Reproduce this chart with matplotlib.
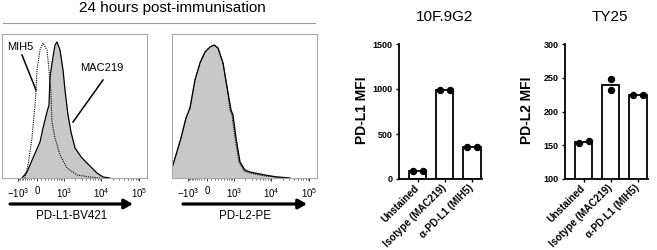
import numpy as np
import matplotlib
matplotlib.use('Agg')
import matplotlib.pyplot as plt
from matplotlib.lines import Line2D

# histogram outlines, x in display channel (0-145 across the panel), y = % of max
pdl1_mac219_x = [20, 25, 31, 38, 41, 45, 47, 48, 51, 53, 55, 58, 61, 63, 65, 66, 69, 73, 80, 85, 90, 95, 101, 108]
pdl1_mac219_y = [0, 6, 20, 36, 50, 66, 73, 101, 121, 133, 136, 128, 108, 88, 71, 63, 46, 30, 20, 15, 10, 5, 1, 0]
pdl1_mih5_x = [23, 26, 30, 33, 34, 35, 38, 41, 45, 47, 49, 49.5, 50, 53, 58, 65, 75, 88, 98]
pdl1_mih5_y = [0, 13, 40, 73, 88, 108, 128, 135, 128, 108, 85, 68, 56, 40, 23, 10, 3, 1, 0]

pdl2_mac219_x = [0, 4, 9, 14, 18, 23, 28, 33, 38, 42, 46, 51, 55, 59, 61, 64, 68, 73, 78, 83, 93, 105, 118]
pdl2_mac219_y = [10, 23, 40, 60, 70, 98, 115, 126, 131, 133, 130, 115, 91, 68, 63, 40, 16, 8, 6, 5, 3, 1, 0]
pdl2_mih5_x = [0, 4, 9, 14, 18, 23, 28, 33, 38, 42, 46, 51, 55, 58, 60, 63, 67, 72, 78, 83, 93, 105, 116]
pdl2_mih5_y = [10, 23, 40, 60, 70, 98, 115, 126, 131, 133, 130, 115, 91, 68, 63, 40, 16, 7, 5, 4, 2, 1, 0]

major_vals = [-1e3, 0, 1e3, 1e4, 1e5]
major_labels = [r'$\mathregular{-10^3}$', '0', r'$\mathregular{10^3}$',
                r'$\mathregular{10^4}$', r'$\mathregular{10^5}$']

# bar charts
categories = ['Unstained', 'Isotype (MAC219)', '\u03b1-PD-L1 (MIH5)']
pdl1_reps = [[88, 90], [985, 992], [357, 360]]
pdl2_reps = [[153, 156], [248, 232], [224, 225]]

plt.rcParams['font.family'] = ['Liberation Sans', 'DejaVu Sans']
plt.rcParams['mathtext.fontset'] = 'custom'
plt.rcParams['mathtext.rm'] = 'Liberation Sans'

W, H = 657, 250
fig = plt.figure(figsize=(W / 100, H / 100), dpi=100)


def px_axes(l, t, r, b):
    return fig.add_axes([l / W, 1 - b / H, (r - l) / W, (b - t) / H])


def biex(v):
    v = np.asarray(v, float)
    a = np.where(v < 0, 11.6, 16.5)
    return 35 + a * np.arcsinh(v / 406)


minor_vals = np.concatenate([np.arange(-900, 0, 100), np.arange(100, 1000, 100),
                             np.arange(2000, 10000, 1000), np.arange(20000, 100000, 10000)])


def histo(ax, sx, sy, dx, dy):
    ax.fill_between(sx, sy, color='#c8c8c8', lw=0)
    ax.plot(sx, sy, color='black', lw=0.9)
    ax.plot(dx, dy, color='black', lw=0.8, ls=(0, (1, 1)))
    ax.set_xlim(0, 145)
    ax.set_ylim(0, 144)
    ax.set_yticks([])
    ax.set_xticks(biex(major_vals))
    ax.set_xticklabels(major_labels, fontsize=7)
    ax.set_xticks(biex(minor_vals), minor=True)
    ax.tick_params(axis='x', which='major', length=2.5, width=0.7, pad=3.5, color='#333333')
    ax.tick_params(axis='x', which='minor', length=1.3, width=0.5, color='#333333')
    for s in ax.spines.values():
        s.set_color('#a8a8a8')
        s.set_linewidth(0.8)


ax1 = px_axes(2, 34, 147, 178)
histo(ax1, pdl1_mac219_x, pdl1_mac219_y, pdl1_mih5_x, pdl1_mih5_y)
ax1.text(18, 131, 'MIH5', ha='center', va='center', fontsize=8)
ax1.plot([20, 34], [123, 88], color='black', lw=1.1)
ax1.text(100, 110, 'MAC219', ha='center', va='center', fontsize=8)
ax1.plot([101, 71], [98, 56], color='black', lw=1.1)

ax2 = px_axes(172, 34, 317, 178)
histo(ax2, pdl2_mac219_x, pdl2_mac219_y, pdl2_mih5_x, pdl2_mih5_y)

fig.text(172 / W, 1 - 8 / H, '24 hours post-immunisation', ha='center', va='center', fontsize=11)
fig.add_artist(Line2D([3 / W, 315 / W], [1 - 23 / H] * 2, color='#999999', lw=0.8))

arrow = dict(arrowstyle='-|>,head_length=0.5,head_width=0.28', lw=2.3,
             color='black', mutation_scale=10, shrinkA=0, shrinkB=0)
for x0, x1, xc, lab in [(10, 133, 72, 'PD-L1-BV421'), (183, 307, 245, 'PD-L2-PE')]:
    ax1.annotate('', xy=(x1, H - 204), xytext=(x0, H - 204), xycoords='figure pixels',
                 textcoords='figure pixels', arrowprops=arrow, annotation_clip=False)
    fig.text(xc / W, 1 - 216 / H, lab, ha='center', va='center', fontsize=8.3)


def bars(ax, reps, ylim, yticks, offsets):
    xpos = np.arange(len(categories))
    means = [np.mean(r) for r in reps]
    ax.bar(xpos, means, width=0.63, color='white', edgecolor='black', lw=1.3, zorder=2)
    for i, r in enumerate(reps):
        ax.plot(xpos[i] + np.array(offsets[i]), r, 'o', color='black', ms=4.3,
                zorder=3, clip_on=False)
    ax.set_xlim(-0.7, 2.37)
    ax.set_ylim(*ylim)
    ax.set_yticks(yticks)
    ax.set_yticklabels([str(t) for t in yticks], fontsize=6.5, fontweight='bold')
    ax.set_xticks(xpos)
    ax.set_xticklabels(categories, rotation=45, ha='right', va='center',
                       rotation_mode='anchor', fontsize=7.2, fontweight='bold')
    ax.spines['top'].set_visible(False)
    ax.spines['right'].set_visible(False)
    for s in ('left', 'bottom'):
        ax.spines[s].set_linewidth(1.3)
    ax.tick_params(axis='both', length=2.5, width=1.0, pad=2)
    ax.tick_params(axis='x', pad=3)


axb1 = px_axes(399, 44, 482, 179)
bars(axb1, pdl1_reps, (0, 1500), [0, 500, 1000, 1500],
     [[-0.18, 0.18], [-0.18, 0.18], [-0.18, 0.18]])
fig.text(445 / W, 1 - 17 / H, '10F.9G2', ha='center', va='center', fontsize=11)
fig.text(362 / W, 1 - 110 / H, 'PD-L1 MFI', rotation=90, ha='center', va='center',
         fontsize=10, fontweight='bold')

axb2 = px_axes(565, 44, 648, 179)
bars(axb2, pdl2_reps, (100, 300), [100, 150, 200, 250, 300],
     [[-0.18, 0.18], [0, 0], [-0.18, 0.18]])
fig.text(610 / W, 1 - 17 / H, 'TY25', ha='center', va='center', fontsize=11)
fig.text(527 / W, 1 - 110 / H, 'PD-L2 MFI', rotation=90, ha='center', va='center',
         fontsize=10, fontweight='bold')

fig.savefig('out.png', dpi=100)
